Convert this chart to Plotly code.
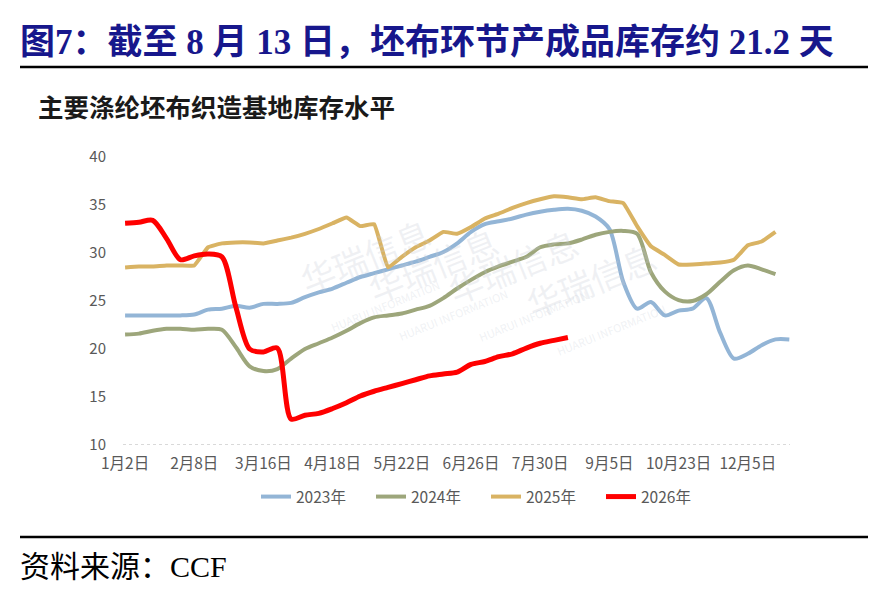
import plotly.graph_objects as go

# weekly inventory days (天), one value per week
tick_labels = ["1月2日", "2月8日", "3月16日", "4月18日", "5月22日",
               "6月26日", "7月30日", "9月5日", "10月23日", "12月5日"]

y2023 = [23.5, 23.5, 23.5, 23.5, 23.5, 23.6, 24.1, 24.2, 24.5, 24.3,
         24.7, 24.7, 24.8, 25.4, 25.9, 26.3, 26.9, 27.5, 27.9, 28.3,
         28.7, 29.1, 29.6, 30.1, 31.0, 32.2, 33.0, 33.3, 33.6, 34.0,
         34.3, 34.5, 34.6, 34.4, 33.8, 32.5, 27.0, 24.2, 24.9, 23.5,
         24.0, 24.2, 25.3, 21.7, 19.0, 19.5, 20.4, 21.0, 21.0]
y2024 = [21.5, 21.6, 21.9, 22.1, 22.1, 22.0, 22.1, 22.0, 20.2, 18.2,
         17.7, 17.9, 19.0, 20.0, 20.6, 21.2, 21.9, 22.7, 23.3, 23.5,
         23.7, 24.1, 24.5, 25.3, 26.3, 27.2, 28.0, 28.6, 29.1, 29.6,
         30.6, 30.9, 31.0, 31.4, 31.9, 32.2, 32.3, 32.0, 28.0, 26.0,
         25.1, 25.0, 25.7, 27.0, 28.2, 28.7, 28.3, 27.8]
y2025 = [28.5, 28.6, 28.6, 28.7, 28.7, 28.7, 30.6, 31.0, 31.1, 31.1,
         31.0, 31.3, 31.6, 32.0, 32.5, 33.1, 33.7, 32.8, 33.0, 28.5,
         29.6, 30.6, 31.3, 32.2, 32.0, 32.7, 33.6, 34.1, 34.7, 35.2,
         35.6, 35.9, 35.8, 35.6, 35.8, 35.4, 35.2, 32.8, 30.7, 29.8,
         28.8, 28.8, 28.9, 29.0, 29.3, 30.8, 31.2, 32.2]
y2026 = [33.1, 33.2, 33.4, 31.5, 29.3, 29.7, 29.9, 29.6, 24.4, 20.0,
         19.7, 20.1, 12.7, 13.1, 13.3, 13.8, 14.4, 15.1, 15.6, 16.0,
         16.4, 16.8, 17.2, 17.4, 17.6, 18.4, 18.7, 19.2, 19.5, 20.1,
         20.6, 20.9, 21.2]

series = [
    ("2023年", y2023, "#93B5D6", 4, 0.8),
    ("2024年", y2024, "#9DA67B", 4, 0.8),
    ("2025年", y2025, "#D9B363", 4, 0.3),
    ("2026年", y2026, "#FF0000", 5, 0.8),
]

fig = go.Figure()
for name, ys, color, w, sm in series:
    fig.add_trace(go.Scatter(
        x=list(range(len(ys))), y=ys, name=name, mode="lines",
        line=dict(color=color, width=w, shape="spline", smoothing=sm),
    ))

# page pixel -> paper helpers (plot area 123..790 x 157..445 on the page)
def px(x):
    return (x - 123) / 667

def py(y):
    return (445 - y) / 288

# faint watermarks
for cx, cy in [(290, 205), (520, 215), (440, 350), (680, 365)]:
    fig.add_annotation(xref="paper", yref="paper", x=px(cx), y=py(cy),
                       text="华瑞信息<br><span style='font-size:11px'>HUARUI INFORMATION</span>",
                       showarrow=False, textangle=-22,
                       font=dict(family="Noto Sans CJK SC", size=34,
                                 color="rgba(200,205,215,0.28)"))

fig.add_annotation(xref="paper", yref="paper", x=px(18), y=py(42),
                   xanchor="left", yanchor="middle", showarrow=False,
                   text="<b>图7：截至 8 月 13 日，坯布环节产成品库存约 21.2 天</b>",
                   font=dict(family="Liberation Serif, Noto Sans CJK SC", size=35,
                             color="#17178C"))
fig.add_annotation(xref="paper", yref="paper", x=px(36), y=py(105),
                   xanchor="left", yanchor="middle", showarrow=False,
                   text="<b>主要涤纶坯布织造基地库存水平</b>",
                   font=dict(family="Noto Sans CJK SC", size=25.5, color="#1a1a1a"))
fig.add_annotation(xref="paper", yref="paper", x=px(18), y=py(566),
                   xanchor="left", yanchor="middle", showarrow=False,
                   text="资料来源：CCF",
                   font=dict(family="Liberation Serif, Noto Sans CJK SC", size=30,
                             color="#000000"))

for yy in [67, 537]:
    fig.add_shape(type="line", xref="paper", yref="paper",
                  x0=px(20), x1=px(868), y0=py(yy), y1=py(yy),
                  line=dict(color="#000000", width=2.5))

# page body has an 8px margin, so the figure sits 8px right/down
fig.update_layout(
    width=884, height=589,
    margin=dict(l=115, r=102, t=149, b=152, autoexpand=False),
    paper_bgcolor="white", plot_bgcolor="white",
    showlegend=True,
    legend=dict(orientation="h", x=px(486), xanchor="center", y=py(497),
                yanchor="middle", font=dict(family="Noto Sans CJK SC", size=15.5,
                                            color="#595959"),
                itemwidth=30, entrywidth=70, entrywidthmode="pixels"),
    font=dict(family="Noto Sans CJK SC", color="#595959"),
)
fig.update_xaxes(range=[-0.15, 48.05], showgrid=False, zeroline=False,
                 tickvals=list(range(0, 46, 5)), ticktext=tick_labels,
                 tickfont=dict(size=15.5, color="#595959"), ticks="",
                 showline=False, ticklabelstandoff=7, automargin=False)
fig.update_yaxes(range=[10, 40], dtick=5, showgrid=False, zeroline=False,
                 tickfont=dict(size=15, color="#595959"), ticks="",
                 showline=False, ticklabelstandoff=16, automargin=False)
# dotted baseline at 10
fig.add_shape(type="line", xref="paper", yref="y", x0=0, x1=1, y0=10, y1=10,
              line=dict(color="#D9D9D9", width=2, dash="dot"), layer="below")

fig.write_html("out.html")
